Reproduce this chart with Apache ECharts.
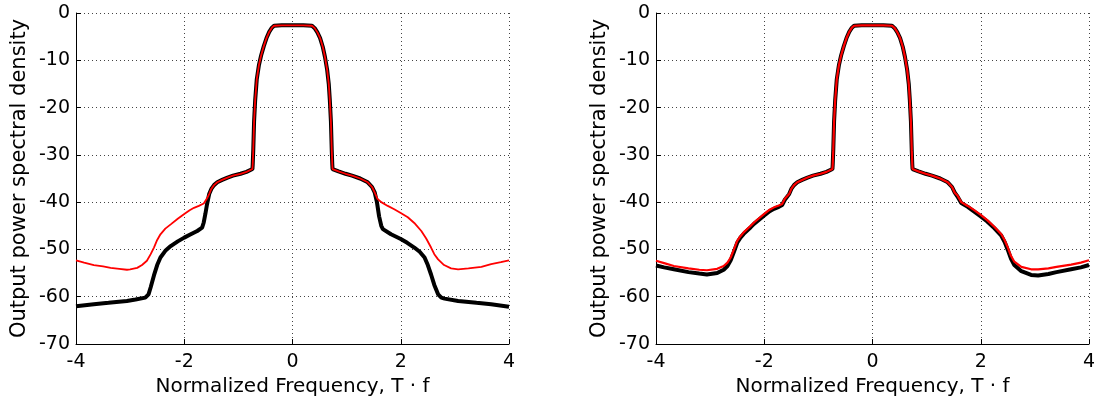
<!DOCTYPE html>
<html>
<head>
<meta charset="utf-8">
<script src="https://cdn.jsdelivr.net/npm/echarts@6/dist/echarts.min.js"></script>
<style>
html,body{margin:0;padding:0;background:#fff;}
#chart{width:1099px;height:403px;}
</style>
</head>
<body>
<div id="chart"></div>
<script>
// Axis ticks
const xTicks = [-4, -2, 0, 2, 4];
const yTicks = [-70, -60, -50, -40, -30, -20, -10, 0];

// Common main lobe + inner shoulders (all curves)
const freqCore = [-1.54,-1.5,-1.45,-1.39,-1.3,-1.2,-1.1,-0.96,-0.85,-0.74,-0.735,-0.725,-0.71,-0.69,-0.66,-0.62,-0.58,-0.53,-0.48,-0.43,-0.38,-0.34,-0.2,0,0.2,0.36,0.41,0.46,0.51,0.56,0.6,0.64,0.67,0.69,0.71,0.725,0.735,0.74,0.85,0.98,1.1,1.25,1.39,1.47,1.52];
const psdCore = [-38.3,-37.2,-36.4,-35.8,-35.3,-34.8,-34.4,-34.0,-33.6,-33.0,-32.0,-29,-23,-18.5,-14,-11,-9,-7,-5.3,-4.0,-3.1,-2.7,-2.6,-2.6,-2.6,-2.7,-3.2,-4.1,-5.3,-7.2,-9.3,-12,-15,-18.5,-23,-29,-32,-33,-33.5,-34.0,-34.4,-35.0,-35.8,-36.8,-38.0];

// Left panel, black curve skirts
const leftBlackFreqL = [-4,-3.67,-3.4,-3.06,-2.9,-2.72,-2.66,-2.62,-2.56,-2.5,-2.44,-2.35,-2.25,-2.12,-2.0,-1.88,-1.76,-1.67,-1.64,-1.61,-1.58];
const leftBlackPsdL  = [-62.0,-61.6,-61.3,-60.9,-60.6,-60.2,-59.5,-58,-55.5,-53.3,-51.7,-50.3,-49.3,-48.3,-47.5,-46.8,-46.1,-45.4,-44.3,-42.5,-40.5];
const leftBlackFreqR = [1.56,1.6,1.64,1.67,1.82,2.0,2.12,2.25,2.35,2.44,2.5,2.56,2.62,2.69,2.75,2.81,3.06,3.4,3.67,4];
const leftBlackPsdR  = [-40,-43,-45,-45.7,-46.8,-47.8,-48.6,-49.6,-50.5,-51.7,-53.3,-55.3,-57.5,-59.5,-60.2,-60.4,-60.9,-61.3,-61.6,-62.1];

// Left panel, red curve skirts
const leftRedFreqL = [-4,-3.85,-3.67,-3.5,-3.36,-3.2,-3.06,-3.0,-2.87,-2.78,-2.69,-2.62,-2.56,-2.5,-2.44,-2.35,-2.25,-2.12,-2.0,-1.9,-1.82,-1.73,-1.64,-1.57];
const leftRedPsdL  = [-52.3,-52.8,-53.3,-53.6,-53.9,-54.1,-54.3,-54.2,-53.9,-53.3,-52.4,-51.0,-49.6,-48.0,-46.8,-45.6,-44.7,-43.5,-42.5,-41.7,-41.2,-40.8,-40.3,-39.0];
const leftRedFreqR = [1.57,1.64,1.76,1.88,2.0,2.13,2.25,2.38,2.47,2.56,2.62,2.69,2.8,2.93,3.06,3.25,3.49,3.67,3.85,4];
const leftRedPsdR  = [-39.3,-40.0,-40.8,-41.5,-42.3,-43.2,-44.4,-46.1,-47.7,-49.6,-51.0,-52.1,-53.3,-54.0,-54.2,-54.0,-53.7,-53.1,-52.7,-52.3];

// Right panel skirts
const rightFreqL = [-4,-3.85,-3.67,-3.4,-3.2,-3.06,-2.87,-2.75,-2.68,-2.62,-2.56,-2.5,-2.44,-2.38,-2.25,-2.19,-2.0,-1.9,-1.82,-1.73,-1.67,-1.62];
const rightRedPsdL   = [-52.4,-52.9,-53.5,-54.0,-54.3,-54.4,-54.1,-53.5,-52.8,-51.7,-50.0,-48.2,-47.2,-46.4,-45.0,-44.3,-42.5,-41.6,-41.1,-40.7,-40.4,-39.3];
const rightBlackPsdL = [-53.4,-53.8,-54.2,-54.8,-55.1,-55.3,-55.0,-54.3,-53.5,-52.3,-50.5,-48.6,-47.5,-46.7,-45.3,-44.6,-42.8,-41.9,-41.4,-41.0,-40.6,-39.5];
const rightFreqR = [1.57,1.64,1.76,1.88,2.0,2.12,2.25,2.38,2.44,2.5,2.56,2.62,2.75,2.93,3.06,3.25,3.4,3.67,3.85,4];
const rightRedPsdR   = [-38.6,-40.0,-40.8,-41.7,-42.7,-43.8,-45.2,-46.8,-48.0,-49.6,-51.4,-52.6,-53.7,-54.2,-54.2,-54.0,-53.7,-53.2,-52.8,-52.3];
const rightBlackPsdR = [-38.8,-40.2,-41.0,-42.0,-43.0,-44.1,-45.5,-47.1,-48.4,-50.1,-52.0,-53.3,-54.6,-55.4,-55.5,-55.2,-54.8,-54.2,-53.8,-53.3];

function zip(xs, ys){ return xs.map((x,i)=>[x, ys[i]]); }
function curve(fl, pl, fr, pr){
  return zip(fl, pl).concat(zip(freqCore, psdCore), zip(fr, pr));
}

const FONT = 'DejaVu Sans';
function xAxisCfg(idx){
  return {
    gridIndex: idx, type: 'value', min: xTicks[0], max: xTicks[xTicks.length-1], interval: 2,
    name: 'Normalized Frequency, T \u00b7 f', nameLocation: 'middle', nameGap: 31,
    nameTextStyle: {fontFamily: FONT, fontSize: 20, color: '#000'},
    axisLine: {show: true, onZero: false, lineStyle: {color: '#000', width: 1}},
    axisTick: {show: true, inside: true, length: 5, lineStyle: {color: '#000'}},
    axisLabel: {fontFamily: FONT, fontSize: 19, color: '#000', margin: 9},
    splitLine: {show: true, lineStyle: {color: '#444', type: [1, 3], width: 1}}
  };
}
function yAxisCfg(idx){
  return {
    gridIndex: idx, type: 'value', min: yTicks[0], max: yTicks[yTicks.length-1], interval: 10,
    name: 'Output power spectral density', nameLocation: 'middle', nameGap: 46,
    nameTextStyle: {fontFamily: FONT, fontSize: 21, color: '#000'},
    axisLine: {show: true, onZero: false, lineStyle: {color: '#000', width: 1}},
    axisTick: {show: true, inside: true, length: 5, lineStyle: {color: '#000'}},
    axisLabel: {fontFamily: FONT, fontSize: 19, color: '#000', margin: 6},
    splitLine: {show: true, lineStyle: {color: '#444', type: [1, 3], width: 1}}
  };
}
function lineSeries(idx, data, color, width){
  return {
    type: 'line', xAxisIndex: idx, yAxisIndex: idx, data: data,
    showSymbol: false, symbol: 'none', smooth: false, animation: false,
    lineStyle: {color: color, width: width}, z: width > 3 ? 2 : 3
  };
}

const chart = echarts.init(document.getElementById('chart'), null, {renderer: 'canvas'});
chart.setOption({
  animation: false,
  backgroundColor: '#fff',
  grid: [
    {left: 76, top: 13, width: 433, height: 331},
    {left: 656, top: 13, width: 433, height: 331}
  ],
  xAxis: [xAxisCfg(0), xAxisCfg(1)],
  yAxis: [yAxisCfg(0), yAxisCfg(1)],
  series: [
    lineSeries(0, curve(leftBlackFreqL, leftBlackPsdL, leftBlackFreqR, leftBlackPsdR), '#000000', 4),
    lineSeries(0, curve(leftRedFreqL, leftRedPsdL, leftRedFreqR, leftRedPsdR), '#ff0000', 1.8),
    lineSeries(1, curve(rightFreqL, rightBlackPsdL, rightFreqR, rightBlackPsdR), '#000000', 4),
    lineSeries(1, curve(rightFreqL, rightRedPsdL, rightFreqR, rightRedPsdR), '#ff0000', 2.2)
  ]
});
</script>
</body>
</html>
